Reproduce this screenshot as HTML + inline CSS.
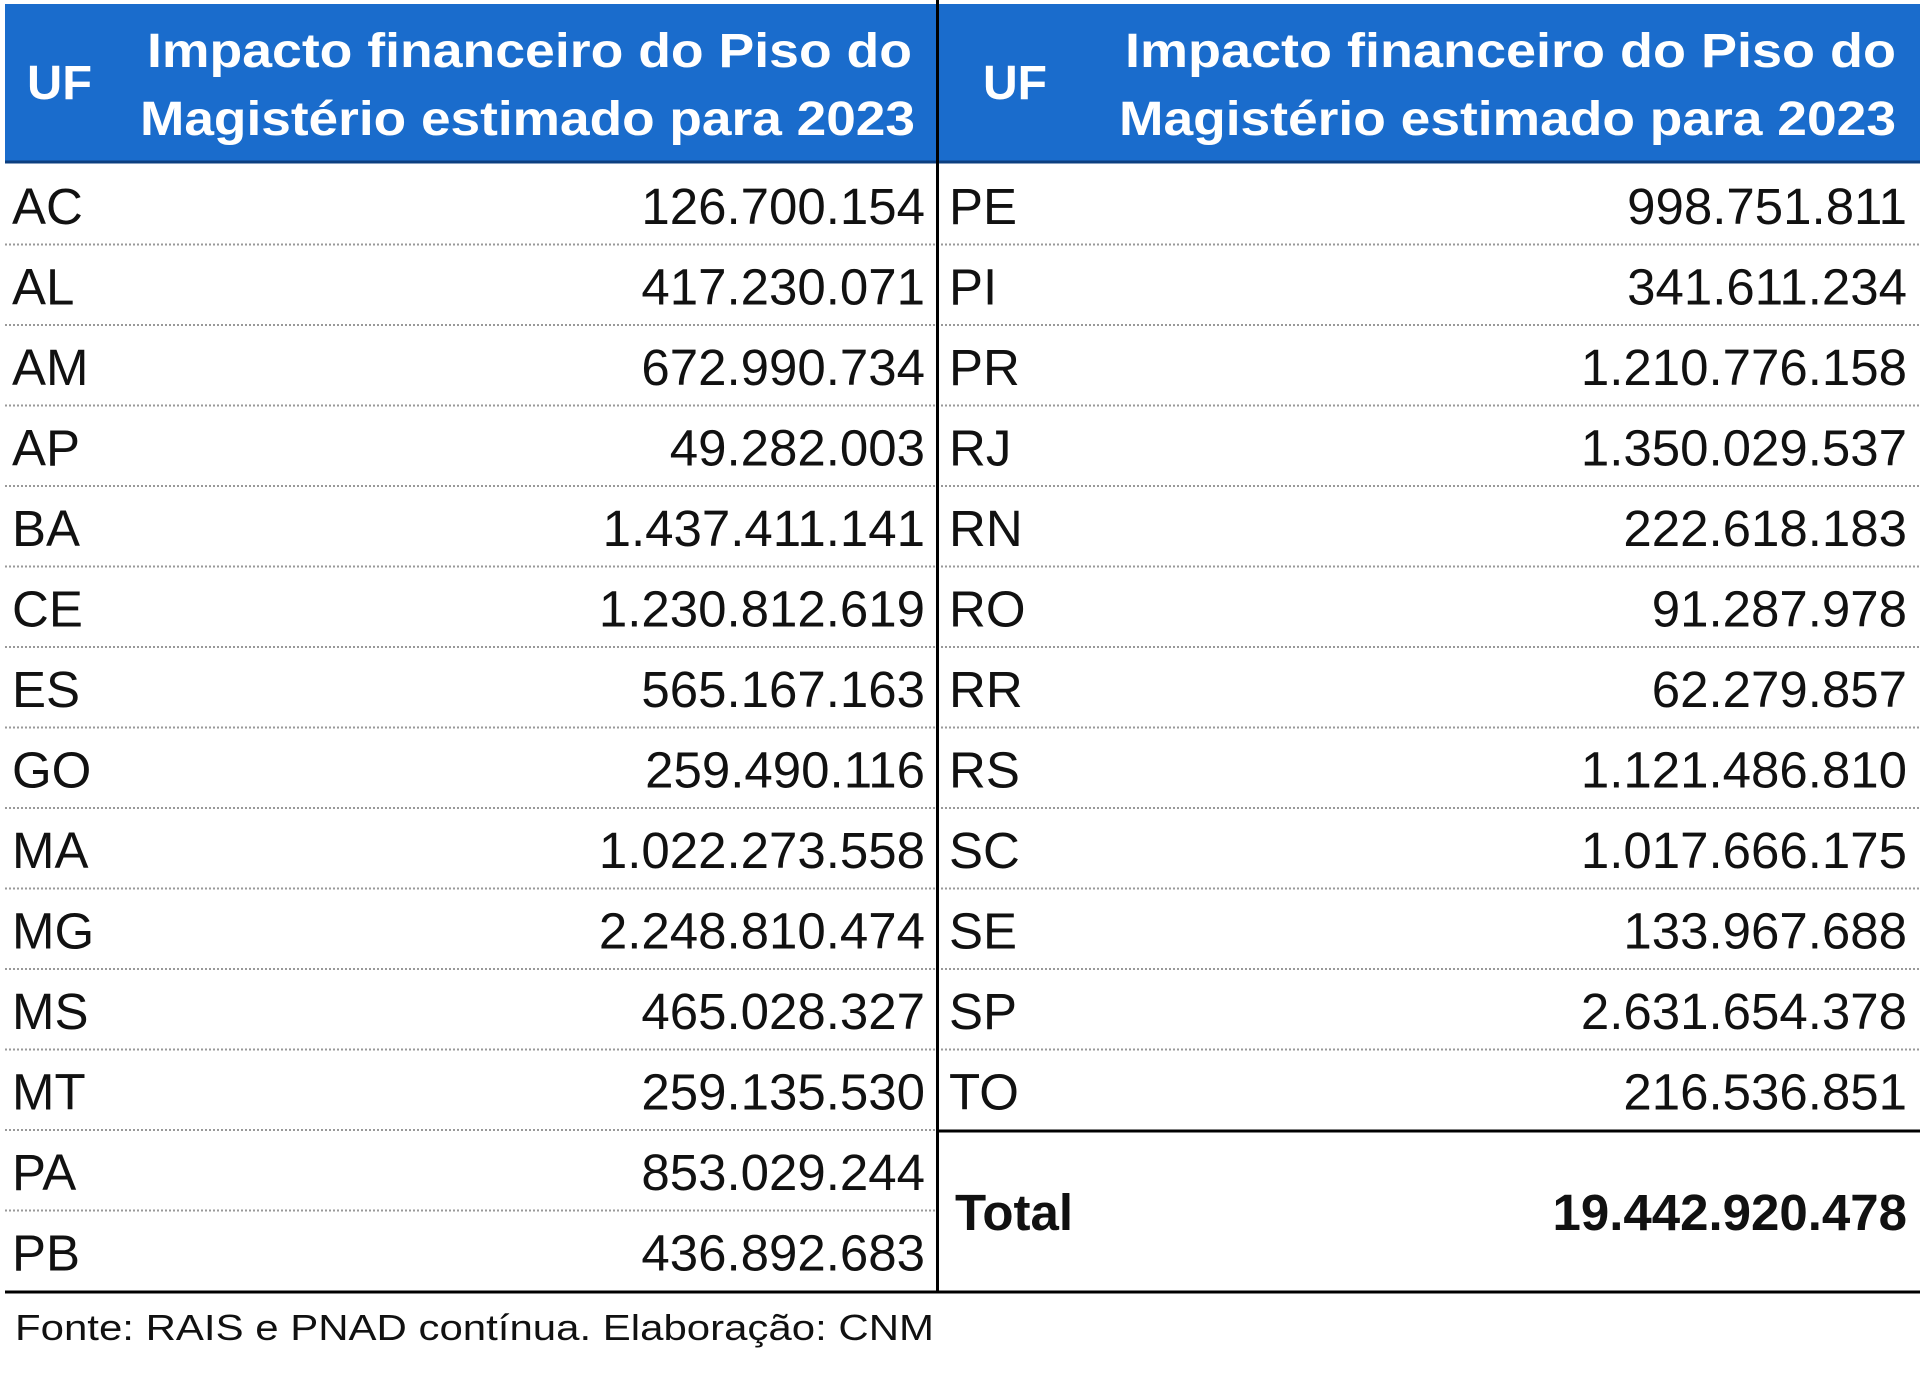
<!DOCTYPE html>
<html><head><meta charset="utf-8"><style>
html,body{margin:0;padding:0;background:#fff;}
svg{display:block;}
text{font-family:"Liberation Sans",Arial,sans-serif;}
</style></head><body>
<svg width="1920" height="1375" viewBox="0 0 1920 1375" xmlns="http://www.w3.org/2000/svg">
<rect x="0" y="0" width="1920" height="1375" fill="#fff"/>
<rect x="5" y="4" width="1915" height="158" fill="#1a6ccc"/>
<line x1="5" y1="162" x2="1920" y2="162" stroke="#0d3f80" stroke-width="3"/>
<g fill="#fff" font-weight="bold" font-size="48">
<text x="27" y="99" textLength="65" lengthAdjust="spacingAndGlyphs">UF</text>
<text x="147" y="67" textLength="765" lengthAdjust="spacingAndGlyphs">Impacto financeiro do Piso do</text>
<text x="140" y="135" textLength="775" lengthAdjust="spacingAndGlyphs">Magistério estimado para 2023</text>
<text x="983" y="99" textLength="64" lengthAdjust="spacingAndGlyphs">UF</text>
<text x="1125" y="67" textLength="771" lengthAdjust="spacingAndGlyphs">Impacto financeiro do Piso do</text>
<text x="1119" y="135" textLength="777" lengthAdjust="spacingAndGlyphs">Magistério estimado para 2023</text>
</g>
<g stroke="#999" stroke-width="2" stroke-dasharray="2,2">
<line x1="5" y1="244.5" x2="937" y2="244.5"/><line x1="5" y1="325" x2="937" y2="325"/><line x1="5" y1="405.5" x2="937" y2="405.5"/><line x1="5" y1="486" x2="937" y2="486"/><line x1="5" y1="566.5" x2="937" y2="566.5"/><line x1="5" y1="647" x2="937" y2="647"/><line x1="5" y1="727.5" x2="937" y2="727.5"/><line x1="5" y1="808" x2="937" y2="808"/><line x1="5" y1="888.5" x2="937" y2="888.5"/><line x1="5" y1="969" x2="937" y2="969"/><line x1="5" y1="1049.5" x2="937" y2="1049.5"/><line x1="5" y1="1130" x2="937" y2="1130"/><line x1="5" y1="1210.5" x2="937" y2="1210.5"/>
<line x1="937" y1="244.5" x2="1920" y2="244.5"/><line x1="937" y1="325" x2="1920" y2="325"/><line x1="937" y1="405.5" x2="1920" y2="405.5"/><line x1="937" y1="486" x2="1920" y2="486"/><line x1="937" y1="566.5" x2="1920" y2="566.5"/><line x1="937" y1="647" x2="1920" y2="647"/><line x1="937" y1="727.5" x2="1920" y2="727.5"/><line x1="937" y1="808" x2="1920" y2="808"/><line x1="937" y1="888.5" x2="1920" y2="888.5"/><line x1="937" y1="969" x2="1920" y2="969"/><line x1="937" y1="1049.5" x2="1920" y2="1049.5"/>
</g>
<line x1="937.5" y1="0" x2="937.5" y2="1292" stroke="#000" stroke-width="3"/>
<line x1="937" y1="1131" x2="1920" y2="1131" stroke="#000" stroke-width="3"/>
<line x1="5" y1="1292" x2="1920" y2="1292" stroke="#000" stroke-width="3"/>
<g fill="#111" font-size="51">
<text x="12" y="224">AC</text><text x="12" y="304.5">AL</text><text x="12" y="385">AM</text><text x="12" y="465.5">AP</text><text x="12" y="546">BA</text><text x="12" y="626.5">CE</text><text x="12" y="707">ES</text><text x="12" y="787.5">GO</text><text x="12" y="868">MA</text><text x="12" y="948.5">MG</text><text x="12" y="1029">MS</text><text x="12" y="1109.5">MT</text><text x="12" y="1190">PA</text><text x="12" y="1270.5">PB</text>
</g>
<g fill="#111" font-size="51" text-anchor="end">
<text x="925" y="224">126.700.154</text><text x="925" y="304.5">417.230.071</text><text x="925" y="385">672.990.734</text><text x="925" y="465.5">49.282.003</text><text x="925" y="546">1.437.411.141</text><text x="925" y="626.5">1.230.812.619</text><text x="925" y="707">565.167.163</text><text x="925" y="787.5">259.490.116</text><text x="925" y="868">1.022.273.558</text><text x="925" y="948.5">2.248.810.474</text><text x="925" y="1029">465.028.327</text><text x="925" y="1109.5">259.135.530</text><text x="925" y="1190">853.029.244</text><text x="925" y="1270.5">436.892.683</text>
</g>
<g fill="#111" font-size="51">
<text x="949" y="224">PE</text><text x="949" y="304.5">PI</text><text x="949" y="385">PR</text><text x="949" y="465.5">RJ</text><text x="949" y="546">RN</text><text x="949" y="626.5">RO</text><text x="949" y="707">RR</text><text x="949" y="787.5">RS</text><text x="949" y="868">SC</text><text x="949" y="948.5">SE</text><text x="949" y="1029">SP</text><text x="949" y="1109.5">TO</text>
</g>
<g fill="#111" font-size="51" text-anchor="end">
<text x="1907" y="224">998.751.811</text><text x="1907" y="304.5">341.611.234</text><text x="1907" y="385">1.210.776.158</text><text x="1907" y="465.5">1.350.029.537</text><text x="1907" y="546">222.618.183</text><text x="1907" y="626.5">91.287.978</text><text x="1907" y="707">62.279.857</text><text x="1907" y="787.5">1.121.486.810</text><text x="1907" y="868">1.017.666.175</text><text x="1907" y="948.5">133.967.688</text><text x="1907" y="1029">2.631.654.378</text><text x="1907" y="1109.5">216.536.851</text>
</g>
<text x="955" y="1230" font-size="51" font-weight="bold" fill="#111">Total</text>
<text x="1907" y="1230" font-size="51" font-weight="bold" fill="#111" text-anchor="end">19.442.920.478</text>
<text x="15" y="1340" font-size="36" fill="#111" textLength="919" lengthAdjust="spacingAndGlyphs">Fonte: RAIS e PNAD contínua. Elaboração: CNM</text>
</svg>
</body></html>
